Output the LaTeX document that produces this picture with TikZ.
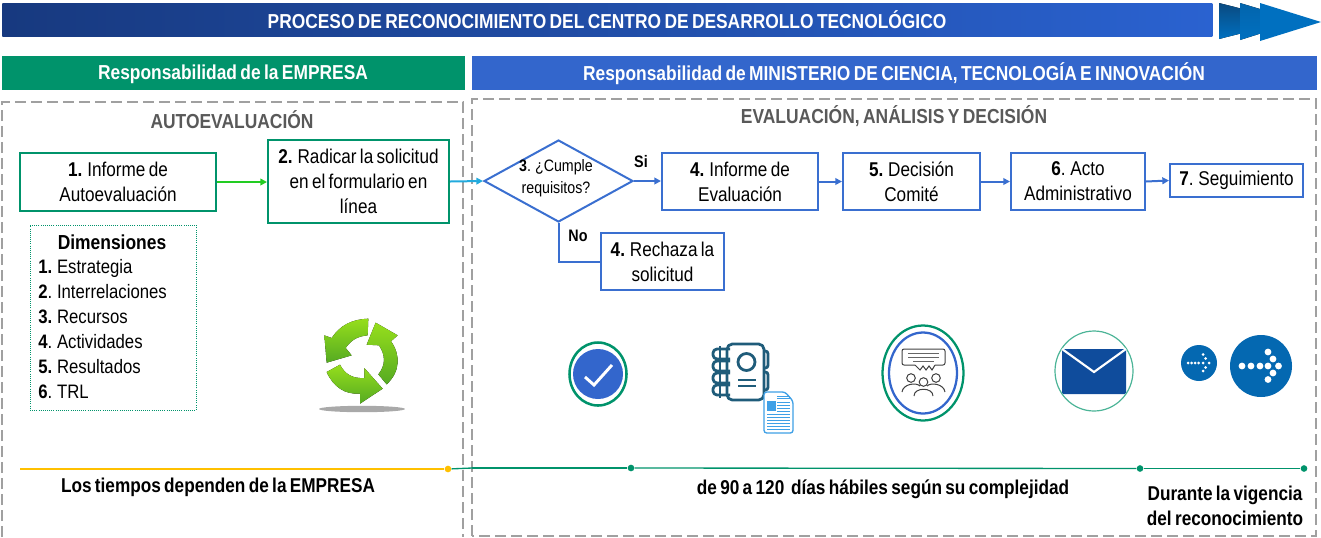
\documentclass[tikz,border=0pt]{standalone}
\usepackage{fontspec}
\setmainfont{Liberation Sans}[FakeStretch=0.86,WordSpace=0.7]
\usetikzlibrary{shapes.geometric,arrows.meta}
\definecolor{teal1}{HTML}{00936B}
\definecolor{blue1}{HTML}{3366CC}
\definecolor{blue2}{HTML}{3A6FD0}
\definecolor{navy1}{HTML}{17397F}
\definecolor{bar2}{HTML}{2A62D0}
\definecolor{grey1}{HTML}{A0A0A0}
\definecolor{grey2}{HTML}{595959}
\definecolor{ink1}{HTML}{1F5C7A}
\definecolor{doc1}{HTML}{3FA0E6}
\definecolor{env1}{HTML}{0F4C9C}
\definecolor{disc1}{HTML}{0468B1}
\definecolor{chev1}{HTML}{0070C0}
\definecolor{chev0}{HTML}{0A4A80}
\definecolor{rec1}{HTML}{96DE1C}
\definecolor{rec2}{HTML}{55AA22}
\definecolor{gold1}{HTML}{FFC000}
\definecolor{linegreen}{HTML}{22CC22}
\definecolor{linecyan}{HTML}{22AADD}
\newcommand{\fsz}[1]{\fontsize{#1}{18.75pt}\selectfont}
\tikzset{
 x=0.75pt,y=-0.75pt,
 hdr/.style={minimum height=25.5pt,inner sep=0pt,text=white,font=\fsz{15.15}\bfseries},
 dashbox/.style={draw=grey1,line width=1.2pt,dash pattern=on 8pt off 4pt},
 sect/.style={text=grey2,font=\fsz{15.2}\bfseries,inner sep=0pt},
 gbox/.style={draw=teal1,line width=1.5pt,fill=white,align=center,inner sep=0pt,font=\fsz{14.95}},
 bbox/.style={draw=blue2,line width=1.5pt,fill=white,align=center,inner sep=0pt,font=\fsz{14.95}},
 conn/.style={line width=1.5pt,-{Triangle[length=5pt,width=5pt]}},
 lab/.style={inner sep=0pt,font=\fsz{12.5}\bfseries},
 foot/.style={inner sep=0pt,align=center,font=\fsz{15}\bfseries},
 dimline/.style={anchor=base west,inner sep=0pt,font=\fsz{14.6}},
 dot/.style={circle,inner sep=0pt,minimum size=5pt},
 recfill/.style={top color=rec1,bottom color=rec2},
}
\begin{document}
\begin{tikzpicture}
\useasboundingbox (0,0) rectangle (1321,537);
% title
\node[minimum width=907.5pt,minimum height=24.75pt,inner sep=0pt,left color=navy1,right color=bar2,anchor=north west] (bar) at (2,3) {};
\node[text=white,font=\fsz{15.15}\bfseries,inner sep=0pt] (title) at (607,19.5) {PROCESO DE RECONOCIMIENTO DEL CENTRO DE DESARROLLO TECNOLÓGICO};
\fill[top color=chev0,bottom color=chev1] (1219,3) -- (1290,21) -- (1219,39) -- cycle;
\fill[top color=chev0!30!chev1,bottom color=chev1] (1240,3) -- (1300,21) -- (1240,40) -- cycle;
\fill[chev1] (1260,3) -- (1321,22) -- (1260,41) -- cycle;
% headers
\node[hdr,fill=teal1,minimum width=347.25pt,anchor=north west] (hl) at (2,56) {};
\node[hdr] (hlt) at (233,74) {Responsabilidad de la EMPRESA};
\node[hdr,fill=blue1,minimum width=633.75pt,anchor=north west] (hr) at (472,56) {};
\node[hdr] (hrt) at (894,74) {Responsabilidad de MINISTERIO DE CIENCIA, TECNOLOGÍA E INNOVACIÓN};
% dashed regions
\draw[dashbox] (2,537) -- (2,102) -- (463,102) -- (463,537);
\draw[dashbox] (472,536) rectangle (1316,99);
\node[sect] (s1) at (232,119.5) {AUTOEVALUACIÓN};
\node[sect] (s2) at (894,116) {EVALUACIÓN, ANÁLISIS Y DECISIÓN};
% process boxes
\node[gbox,minimum width=147pt,minimum height=43.5pt] (b1) at (118,182) {\textbf{1.} Informe de\\Autoevaluación};
\node[gbox,minimum width=135.75pt,minimum height=62.25pt] (b2) at (358.5,181.5) {\textbf{2.} Radicar la solicitud\\en el formulario en\\línea};
\node[diamond,draw=blue2,line width=1.5pt,fill=white,minimum width=111.75pt,minimum height=61.5pt,inner sep=0pt] (d3) at (558.5,181) {};
\node[inner sep=0pt,align=center,font=\fontsize{12.4}{16.5pt}\selectfont] (d3t) at (556,178) {\textbf{3}. ¿Cumple\\requisitos?};
\node[bbox,minimum width=117pt,minimum height=42.75pt] (b4) at (740,181.5) {\textbf{4.} Informe de\\Evaluación};
\node[bbox,minimum width=102.75pt,minimum height=42.75pt] (b5) at (911.5,181.5) {\textbf{5.} Decisión\\Comité};
\node[bbox,minimum width=100.5pt,minimum height=42.75pt] (b6) at (1078,181.5) {\textbf{6}. Acto\\Administrativo};
\node[bbox,minimum width=99.75pt,minimum height=24.75pt] (b7) at (1236.5,180.5) {\textbf{7}. Seguimiento};
\node[bbox,minimum width=92.25pt,minimum height=42.75pt] (r4) at (662.5,261.5) {\textbf{4.} Rechaza la\\solicitud};
% connectors
\draw[conn,color=linegreen] (b1.east) -- (b2.west |- b1.east);
\draw[conn,color=linecyan] (b2.east) -- (d3.west);
\draw[conn,color=blue2] (d3.east) -- (b4.west |- d3.east);
\draw[conn,color=blue2] (b4) -- (b5);
\draw[conn,color=blue2] (b5) -- (b6);
\draw[conn,color=blue2] (b6.east) -- (b7.west);
\draw[line width=1.5pt,color=blue2] (d3.south) |- (r4.west);
\node[lab] (si) at (641,162) {Si};
\node[lab] (no) at (578,236) {No};
% dimensions
\node[draw=teal1,densely dotted,line width=0.6pt,minimum width=124.5pt,minimum height=138.75pt,inner sep=0pt] (dim) at (113,317.5) {};
\node[inner sep=0pt,font=\fsz{15.2}\bfseries] (dt) at (112,242.5) {Dimensiones};
\node[dimline] (d1) at (38,273.5) {\textbf{1.} Estrategia};
\node[dimline] (d2) at (38,298.5) {\textbf{2}. Interrelaciones};
\node[dimline] (d3x) at (38,323.5) {\textbf{3.} Recursos};
\node[dimline] (d4) at (38,348.5) {\textbf{4}. Actividades};
\node[dimline] (d5) at (38,373.5) {\textbf{5.} Resultados};
\node[dimline] (d6) at (38,398.5) {\textbf{6}. TRL};
% recycle icon
\fill[black!45,opacity=.75] (362,409) ellipse[x radius=43,y radius=3.2];
\begin{scope}[shift={(315,312)},scale=1/3]
 \fill[recfill,line join=round] (160,20) .. controls (110,22) and (75,40) .. (50,78) -- (28,70) -- (35,152) -- (110,130) -- (92,108) .. controls (110,80) and (135,72) .. (158,70) -- cycle;
 \fill[recfill,line join=round] (182,32) -- (248,70) -- (228,88) .. controls (258,130) and (255,180) .. (215,217) -- (190,187) .. controls (212,160) and (212,130) .. (192,100) -- (155,98) -- cycle;
 \fill[recfill,line join=round] (35,180) -- (75,158) .. controls (90,188) and (115,200) .. (148,198) -- (148,168) -- (203,230) -- (135,275) -- (135,245) .. controls (90,248) and (55,225) .. (35,180) -- cycle;
\end{scope}
% check icon
\draw[teal1,line width=1.9pt] (598,374) ellipse[x radius=28.5,y radius=31.5];
\fill[blue1] (598,374) circle[radius=25];
\draw[white,line width=2.2pt] (585,377) -- (594,385) -- (612,365);
% notebook icon
\begin{scope}[ink1,line width=2.1pt,line join=round]
 \draw[rounded corners=4pt] (727,344) rectangle (764,400);
 \draw[rounded corners=2pt] (764,351) -- (768,351) -- (768,368) -- (764,368);
 \draw[rounded corners=2pt] (764,372) -- (768,372) -- (768,390) -- (764,390);
 \draw (746.5,362) circle[radius=8.5];
 \draw (738,380) -- (756,380) (738,386) -- (756,386);
 \foreach \yy in {354,366,378,390}{\draw[rounded corners=3pt] (730,\yy-5) -- (713,\yy-5) -- (713,\yy+5) -- (730,\yy+5);}
 \draw[line width=1.4pt] (720,346) -- (720,398);
\end{scope}
\fill[white,draw=doc1,line width=1pt,rounded corners=2pt] (764,392) -- (785,392) -- (793,401) -- (793,433) -- (764,433) -- cycle;
\fill[doc1] (767,401) rectangle (776,411);
\foreach \yy in {396,398.5,402,405,408,411}{\draw[doc1,line width=.5pt] (777,\yy) -- (790,\yy);}
\foreach \yy in {414,417,420,423,426,429}{\draw[doc1,line width=.5pt] (767,\yy) -- (790,\yy);}
% committee icon
\draw[teal1,line width=1.7pt] (923,373) ellipse[x radius=40.5,y radius=47.5];
\draw[blue1,line width=1.7pt] (923,373) ellipse[x radius=34,y radius=40.5];
\begin{scope}[black!75,line width=.75pt]
 \draw[rounded corners=1.5pt] (902,349) rectangle (945,365);
 \fill[white] (915,364) rectangle (935,366);
 \draw (915,365) -- (920,370) -- (923,366) -- (926,370) -- (929,366) -- (932,370) -- (935,365);
 \draw[black!60] (908,353) -- (939,353) (908,357) -- (939,357) (913,361) -- (934,361);
 \foreach \cx/\cy in {911/378,936/378,923.5/382}{\draw (\cx,\cy) circle[radius=4.3];}
 \draw (902,392) .. controls (903,384) and (916,382) .. (920,386);
 \draw (945,392) .. controls (944,384) and (931,382) .. (927,386);
 \draw (914,396) .. controls (914,387) and (933,387) .. (933,396);
\end{scope}
% mail icon
\draw[teal1!70,line width=.9pt] (1094,371) ellipse[x radius=39,y radius=40];
\fill[env1,rounded corners=1pt] (1062,349) rectangle (1126,394);
\draw[white,line width=1.6pt] (1062,349) -- (1094,372) -- (1126,349);
% follow-up icons
\fill[disc1] (1199,363) circle[radius=18];
\fill[disc1] (1261,366) circle[radius=31];
\foreach \dx/\dy in {-11/0,-7.5/0,-4/0,-0.5/0,4/0,4/-8.5,4/8,6.7/-4.5,6.7/4.5,10/0}{\fill[white] (1199+\dx,363+\dy) circle[radius=1.5];}
\foreach \dx/\dy in {-19/0,-10/0,-1/0,7/0,7/-14,7/13.5,12/-7,12/7,17.5/0}{\fill[white] (1261+\dx,366+\dy) circle[radius=3.4];}
% timeline
\coordinate (t0) at (20,469);
\node[dot,fill=gold1] (y1) at (448,469) {};
\coordinate (t1) at (472,468);
\node[dot,fill=teal1] (g1) at (631,468) {};
\node[dot,fill=teal1] (g2) at (1140,468.5) {};
\node[dot,fill=teal1] (g3) at (1304,468.5) {};
\draw[gold1,line width=1pt] (t0) -- (y1);
\draw[teal1,line width=1pt] (y1) -- (t1);
\draw[teal1,line width=1.9pt] (t1) -- (g1);
\draw[teal1,line width=1pt] (g1) -- (g2);
\draw[teal1,line width=1pt] (g2) -- (g3);
\node[foot] (f1) at (218,487) {Los tiempos dependen de la EMPRESA};
\node[foot] (f2) at (883,489) {de 90 a 120\ \ días hábiles según su complejidad};
\node[foot] (f3) at (1225,505.5) {Durante la vigencia\\del reconocimiento};
\end{tikzpicture}
\end{document}
